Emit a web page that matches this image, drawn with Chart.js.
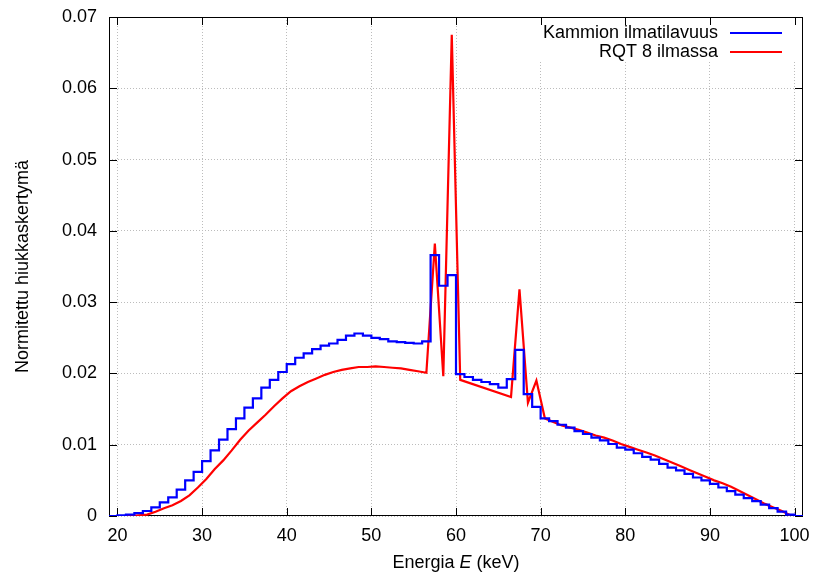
<!DOCTYPE html>
<html>
<head>
<meta charset="utf-8">
<script src="https://cdn.jsdelivr.net/npm/chart.js@4/dist/chart.umd.min.js"></script>
<style>
  html, body { margin: 0; padding: 0; background: #fff; }
  #wrap { width: 817px; height: 576px; }
</style>
</head>
<body>
<div id="wrap"><canvas id="c" width="817" height="576"></canvas></div>
<script>
// ---- data ----
const seriesNames = ['Kammion ilmatilavuus', 'RQT 8 ilmassa'];
// blue histogram: left edges of 1 keV bins
const binStart = [19,20,21,22,23,24,25,26,27,28,29,30,31,32,33,34,35,36,37,38,39,40,41,42,43,44,45,46,47,48,49,50,51,52,53,54,55,56,57,58,59,60,61,62,63,64,65,66,67,68,69,70,71,72,73,74,75,76,77,78,79,80,81,82,83,84,85,86,87,88,89,90,91,92,93,94,95,96,97,98,99,100,101];
const chamberValues = [0,0.0001,0.0002,0.0004,0.0007,0.0012,0.0019,0.0026,0.0037,0.0050,0.0062,0.0077,0.0092,0.0107,0.0122,0.0137,0.0152,0.0165,0.0180,0.0191,0.0202,0.0213,0.0222,0.0228,0.0234,0.0239,0.0242,0.0247,0.0253,0.0256,0.0253,0.0250,0.0248,0.0245,0.0244,0.0243,0.0242,0.0245,0.0366,0.0323,0.0338,0.0199,0.0195,0.0191,0.0188,0.0185,0.0180,0.0192,0.0233,0.0171,0.0153,0.0137,0.0133,0.0128,0.0124,0.0119,0.0115,0.0110,0.0106,0.0101,0.0096,0.0093,0.0088,0.0083,0.0079,0.0073,0.0068,0.0064,0.0059,0.0054,0.0050,0.0045,0.0040,0.0035,0.0030,0.0025,0.0021,0.0016,0.0011,0.0006,0.0002,0,0];
// red line
const rqtEnergy = [19.5,20.5,21.5,22.5,23.5,24.5,25.5,26.5,27.5,28.5,29.5,30.5,31.5,32.5,33.5,34.5,35.5,36.5,37.5,38.5,39.5,40.5,41.5,42.5,43.5,44.5,45.5,46.5,47.5,48.5,49.5,50.5,51.5,52.5,53.5,54.5,55.5,56.5,57.5,58.5,59.5,60.5,66.5,67.5,68.5,69.5,70.5,71.5,72.5,73.5,74.5,75.5,76.5,77.5,78.5,79.5,80.5,81.5,82.5,83.5,84.5,85.5,86.5,87.5,88.5,89.5,90.5,91.5,92.5,93.5,94.5,95.5,96.5,97.5,98.5,99.5];
const rqtValues = [0,0,0.0000,0.0001,0.0002,0.0006,0.0011,0.0015,0.0021,0.0029,0.0040,0.0052,0.0066,0.0078,0.0092,0.0107,0.0120,0.0131,0.0142,0.0154,0.0165,0.0175,0.0182,0.0188,0.0193,0.0198,0.0202,0.0205,0.0207,0.0209,0.0209,0.0210,0.0209,0.0208,0.0207,0.0205,0.0203,0.0201,0.0382,0.0196,0.0675,0.0191,0.0167,0.0318,0.0159,0.0190,0.0137,0.0132,0.0127,0.0124,0.0121,0.0117,0.0113,0.0110,0.0106,0.0101,0.0097,0.0093,0.0089,0.0085,0.0080,0.0075,0.0070,0.0065,0.0060,0.0055,0.0050,0.0046,0.0041,0.0035,0.0029,0.0023,0.0017,0.0012,0.0007,0.0001];
const xTicks = [20,30,40,50,60,70,80,90,100];
const yTicks = [0,0.01,0.02,0.03,0.04,0.05,0.06,0.07];
const xLabelParts = ['Energia ', 'E', ' (keV)'];
const yLabel = 'Normitettu hiukkaskertymä';

const FONT = '"Liberation Sans", Arial, Helvetica, sans-serif';
const FS = 18;

const framePlugin = {
  id: 'frame',
  beforeDatasetsDraw(chart) {
    const {ctx, chartArea: a, scales: {x, y}} = chart;
    ctx.save();
    // legend background box
    ctx.fillStyle = '#fff';
    ctx.fillRect(530, a.top + 1, a.right - 531, 44);
    // frame
    ctx.strokeStyle = '#000';
    ctx.lineWidth = 1;
    ctx.strokeRect(Math.round(a.left) + 0.5, Math.round(a.top) + 0.5, Math.round(a.right - a.left) - 1, Math.round(a.bottom - a.top) - 1);
    // inward ticks on all sides
    ctx.beginPath();
    const tl = 8;
    xTicks.forEach(v => {
      const px = Math.round(x.getPixelForValue(v)) + 0.5;
      ctx.moveTo(px, a.bottom); ctx.lineTo(px, a.bottom - tl);
      ctx.moveTo(px, a.top); ctx.lineTo(px, a.top + tl);
    });
    yTicks.forEach(v => {
      const py = Math.round(y.getPixelForValue(v)) + 0.5;
      ctx.moveTo(a.left, py); ctx.lineTo(a.left + tl, py);
      ctx.moveTo(a.right, py); ctx.lineTo(a.right - tl, py);
    });
    ctx.stroke();
    ctx.restore();
  },
  afterDraw(chart) {
    const {ctx, chartArea: a} = chart;
    ctx.save();
    ctx.fillStyle = '#000';
    ctx.textBaseline = 'middle';
    // legend
    const rows = [33, 52];
    chart.data.datasets.forEach((ds, i) => {
      ctx.font = FS + 'px ' + FONT;
      ctx.textAlign = 'right';
      ctx.fillStyle = '#000';
      ctx.fillText(ds.label, 718, rows[i]);
      ctx.strokeStyle = ds.borderColor;
      ctx.lineWidth = 2;
      ctx.beginPath();
      ctx.moveTo(730, rows[i]); ctx.lineTo(782, rows[i]);
      ctx.stroke();
    });
    // x axis title with italic E
    const fonts = [FS + 'px ' + FONT, 'italic ' + FS + 'px ' + FONT, FS + 'px ' + FONT];
    let widths = xLabelParts.map((t, i) => { ctx.font = fonts[i]; return ctx.measureText(t).width; });
    const total = widths.reduce((s, w) => s + w, 0);
    let cx = (a.left + a.right) / 2 - total / 2;
    ctx.textAlign = 'left';
    ctx.fillStyle = '#000';
    xLabelParts.forEach((t, i) => { ctx.font = fonts[i]; ctx.fillText(t, cx, 563); cx += widths[i]; });
    // y axis title
    ctx.translate(23, (a.top + a.bottom) / 2 + 0);
    ctx.rotate(-Math.PI / 2);
    ctx.textAlign = 'center';
    ctx.font = FS + 'px ' + FONT;
    ctx.fillText(yLabel, 0, 0);
    ctx.restore();
  }
};

const chamberData = binStart.map((e, i) => ({x: e, y: chamberValues[i]}));
const rqtData = rqtEnergy.map((e, i) => ({x: e, y: rqtValues[i]}));

new Chart(document.getElementById('c'), {
  type: 'line',
  data: {
    datasets: [
      { label: seriesNames[0], data: chamberData, borderColor: '#0000ff', borderWidth: 2.2, stepped: 'before', pointRadius: 0, fill: false, borderJoinStyle: 'miter' },
      { label: seriesNames[1], data: rqtData, borderColor: '#ff0000', borderWidth: 2.2, pointRadius: 0, tension: 0, fill: false }
    ]
  },
  options: {
    responsive: false,
    animation: false,
    layout: { padding: { left: 0, right: 14, top: 17, bottom: 0 } },
    plugins: { legend: { display: false }, tooltip: { enabled: false } },
    scales: {
      x: {
        type: 'linear', min: 19, max: 101,
        afterBuildTicks: s => { s.ticks = xTicks.map(v => ({value: v})); },
        afterFit: s => { s.height = 60; s.paddingLeft = 0; s.paddingRight = 0; s.paddingTop = 0; s.paddingBottom = 0; },
        grid: { color: '#bcbcbc', lineWidth: 1, drawTicks: false },
        border: { display: false, dash: [1, 2] },
        ticks: { color: '#000', font: { family: FONT, size: FS }, padding: 9, maxRotation: 0, autoSkip: false, callback: v => String(v) }
      },
      y: {
        type: 'linear', min: 0, max: 0.07,
        afterBuildTicks: s => { s.ticks = yTicks.map(v => ({value: v})); },
        afterFit: s => { s.width = 109; s.paddingLeft = 0; s.paddingRight = 0; s.paddingTop = 0; s.paddingBottom = 0; },
        grid: { color: '#bcbcbc', lineWidth: 1, drawTicks: false },
        border: { display: false, dash: [1, 2] },
        ticks: { color: '#000', font: { family: FONT, size: FS }, padding: 12, callback: v => (v === 0 ? '0' : v.toFixed(2)) }
      }
    }
  },
  plugins: [framePlugin]
});
</script>
</body>
</html>
